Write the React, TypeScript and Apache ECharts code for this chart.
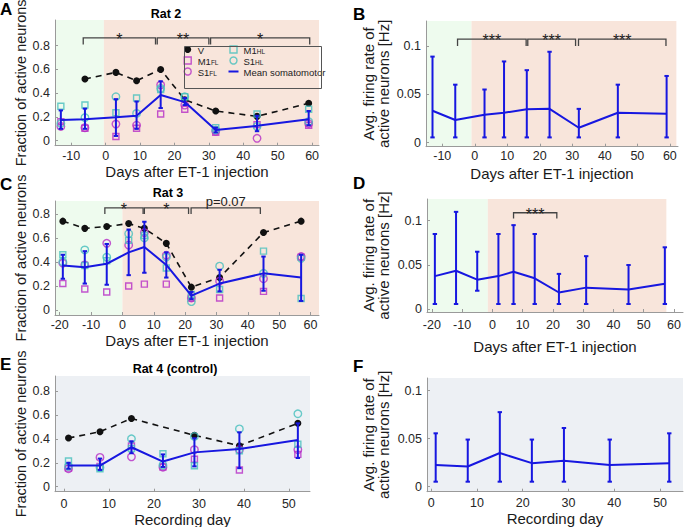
import React, { useEffect, useRef } from "react";
import * as echarts from "echarts";

// ---------------- Rat 2 (panels A, B) ----------------
const daysRat2 = [-13, -6, 3, 9, 16, 23, 32, 44, 59];
const daysRat2V = [-6, 3, 9, 16, 23, 32, 44, 59];
const vRat2 = [0.52, 0.575, 0.505, 0.6, 0.345, 0.25, 0.205, 0.315];
const meanRat2 = [0.175, 0.18, 0.197, 0.21, 0.385, 0.325, 0.09, 0.125, 0.18];
const loRat2 = [0.1, 0.1, 0.04, 0.1, 0.275, 0.3, 0.07, 0.08, 0.13];
const hiRat2 = [0.255, 0.27, 0.35, 0.33, 0.5, 0.36, 0.11, 0.21, 0.25];
const m1flRat2 = [0.16, 0.105, 0.035, 0.105, 0.225, 0.265, 0.07, 0.135, 0.13];
const s1flRat2 = [0.12, 0.11, 0.14, 0.13, 0.47, 0.3, 0.08, 0.02, 0.145];
const m1hlRat2 = [0.29, 0.3, 0.235, 0.36, 0.43, 0.37, 0.11, 0.225, 0.265];
const s1hlRat2 = [0.145, 0.195, 0.37, 0.23, 0.44, 0.37, 0.09, 0.12, 0.16];
const brStartA = [-6.5, 15, 30.5];
const brEndA = [14.5, 30, 59.3];
const brLabelA = ["*", "**", "*"];

const rateRat2 = [0.033, 0.0235, 0.029, 0.031, 0.0345, 0.035, 0.0155, 0.031, 0.03];
const rateHiRat2 = [0.089, 0.06, 0.055, 0.084, 0.075, 0.094, 0.035, 0.06, 0.069];
const rateLoRat2 = [0.0055, 0.0055, 0.0055, 0.0055, 0.0055, 0.0055, 0.0055, 0.0055, 0.0055];
const brStartB = [-5.3, 16.3, 31.9];
const brEndB = [15.8, 31, 58.8];
const brLabelB = ["***", "***", "***"];

// ---------------- Rat 3 (panels C, D) ----------------
const daysRat3 = [-19, -12, -5, 2, 7, 14, 22, 31, 45, 57];
const vRat3 = [0.74, 0.68, 0.695, 0.72, 0.68, 0.555, 0.19, 0.27, 0.645, 0.74];
const meanRat3 = [0.37, 0.355, 0.385, 0.48, 0.525, 0.375, 0.12, 0.22, 0.305, 0.27];
const loRat3 = [0.26, 0.22, 0.21, 0.29, 0.31, 0.27, 0.09, 0.155, 0.16, 0.075];
const hiRat3 = [0.46, 0.49, 0.55, 0.67, 0.735, 0.48, 0.15, 0.335, 0.445, 0.46];
const m1flRat3 = [0.22, 0.175, 0.15, 0.2, 0.215, 0.215, 0.1, 0.1, 0.155, 0.44];
const s1flRat3 = [0.39, 0.375, 0.555, 0.54, 0.645, 0.455, 0.1, 0.24, 0.26, 0.445];
const m1hlRat3 = [0.46, 0.37, 0.41, 0.58, 0.62, 0.35, 0.13, 0.17, 0.49, 0.095];
const s1hlRat3 = [0.4, 0.5, 0.44, 0.635, 0.6, 0.44, 0.07, 0.365, 0.305, 0.43];
const brStartC = [-5.6, 7, 21.9];
const brEndC = [6.6, 21.1, 44];
const brLabelC = ["*", "*", "p=0.07"];

const rateRat3 = [0.0375, 0.0435, 0.0335, 0.0375, 0.0425, 0.035, 0.019, 0.0245, 0.0225, 0.029];
const rateHiRat3 = [0.085, 0.11, 0.065, 0.085, 0.095, 0.085, 0.04, 0.06, 0.05, 0.07];
const rateLoRat3 = [0.006, 0.006, 0.021, 0.006, 0.006, 0.006, 0.006, 0.006, 0.006, 0.006];
const brStartD = [7];
const brEndD = [21.3];
const brLabelD = ["***"];

// ---------------- Rat 4 control (panels E, F) ----------------
const daysRat4 = [1, 8, 15, 22, 29, 39, 52];
const daysRat4V = [1, 8, 15, 29, 39, 52];
const vRat4 = [0.407, 0.46, 0.57, 0.43, 0.343, 0.53];
const meanRat4 = [0.177, 0.177, 0.33, 0.21, 0.287, 0.315, 0.39];
const loRat4 = [0.15, 0.14, 0.28, 0.165, 0.17, 0.155, 0.24];
const hiRat4 = [0.2, 0.235, 0.38, 0.27, 0.405, 0.455, 0.53];
const m1flRat4 = [0.155, 0.17, 0.34, 0.165, 0.23, 0.14, 0.27];
const s1flRat4 = [0.15, 0.245, 0.25, 0.163, 0.31, 0.31, 0.31];
const m1hlRat4 = [0.215, 0.15, 0.32, 0.275, 0.175, 0.3, 0.355];
const s1hlRat4 = [0.17, 0.16, 0.4, 0.18, 0.42, 0.483, 0.61];

const rateRat4 = [0.0225, 0.021, 0.035, 0.0245, 0.027, 0.0225, 0.0245];
const rateHiRat4 = [0.0555, 0.049, 0.0775, 0.049, 0.061, 0.049, 0.0555];
const rateLoRat4 = [0.0052, 0.0052, 0.0052, 0.0052, 0.0052, 0.0052, 0.0052];

// tick labels
const ticksX_AB = [-10, 0, 10, 20, 30, 40, 50, 60];
const ticksX_CD = [-20, -10, 0, 10, 20, 30, 40, 50, 60];
const ticksX_EF = [0, 10, 20, 30, 40, 50];
const ticksFrac = [0, 0.2, 0.4, 0.6, 0.8];
const ticksRate = [0, 0.05, 0.1];

// shading boundaries (green pre-injection, pink post-injection) in days
const shadeA = [-14.7, -0.5, 62];
const shadeB = [-14.7, -1, 62];
const shadeC = [-21.6, 0, 62.7];
const shadeD = [-21.6, -1.5, 57.5];

const FONT = "'Liberation Sans', Arial, Helvetica, sans-serif";
const BLUE = "#1717e0";
const MAGENTA = "#b52cc6";
const CYAN = "#45bfbd";
const BLACK = "#111111";
const GREEN_BG = "#eefbee";
const PINK_BG = "#f8e5db";
const GRAY_BG = "#edf0f4";
const AXIS = "#9a9a9a";
const TICK_FS = 12.5;
const NAME_FS = 15;

const fmt = (v: number) => String(Math.round(v * 1000) / 1000);

function xAx(gi: number, min: number, max: number, ticks: number[], name: string, nameGap: number, margin: number) {
  return {
    type: "value", gridIndex: gi, min, max, name, nameLocation: "middle", nameGap, z: 3,
    nameTextStyle: { fontFamily: FONT, fontSize: NAME_FS, color: "#1a1a1a" },
    axisLine: { show: true, onZero: false, lineStyle: { color: AXIS, width: 1 } },
    axisTick: { show: true, inside: true, length: 3, customValues: ticks, lineStyle: { color: AXIS } },
    axisLabel: { customValues: ticks, margin, fontFamily: FONT, fontSize: TICK_FS, color: "#262626", formatter: fmt },
    splitLine: { show: false },
  };
}

function yAx(gi: number, min: number, max: number, ticks: number[], name: string, nameGap: number, nameFs: number) {
  return {
    type: "value", gridIndex: gi, min, max, name, nameLocation: "middle", nameGap, z: 3,
    nameTextStyle: { fontFamily: FONT, fontSize: nameFs, color: "#1a1a1a", lineHeight: 15 },
    axisLine: { show: true, onZero: false, lineStyle: { color: AXIS, width: 1 } },
    axisTick: { show: true, inside: true, length: 3, customValues: ticks, lineStyle: { color: AXIS } },
    axisLabel: { customValues: ticks, margin: 5, fontFamily: FONT, fontSize: TICK_FS, color: "#262626", formatter: fmt },
    splitLine: { show: false },
  };
}

function shadeArea(s: number[] | null) {
  if (!s) return undefined;
  return {
    silent: true,
    label: { show: false },
    itemStyle: { opacity: 1, borderWidth: 0 },
    data: [
      [{ xAxis: s[0], itemStyle: { color: GREEN_BG } }, { xAxis: s[1] }],
      [{ xAxis: s[1], itemStyle: { color: PINK_BG } }, { xAxis: s[2] }],
    ],
  };
}

function errSeries(gi: number, days: number[], lo: number[], hi: number[]) {
  return {
    type: "custom", name: "err" + gi, xAxisIndex: gi, yAxisIndex: gi, z: 6, silent: true,
    data: days.map((d, i) => [d, lo[i], hi[i]]),
    encode: { x: 0, y: [1, 2] },
    renderItem: (params: any, api: any) => {
      const x = api.value(0);
      const a = api.coord([x, api.value(1)]);
      const b = api.coord([x, api.value(2)]);
      const w = 2.2;
      const st = () => ({ stroke: BLUE, lineWidth: 2 });
      return {
        type: "group",
        children: [
          { type: "line", shape: { x1: a[0], y1: a[1], x2: b[0], y2: b[1] }, style: st() },
          { type: "line", shape: { x1: a[0] - w, y1: a[1], x2: a[0] + w, y2: a[1] }, style: st() },
          { type: "line", shape: { x1: b[0] - w, y1: b[1], x2: b[0] + w, y2: b[1] }, style: st() },
        ],
      };
    },
  };
}

function bracketSeries(gi: number, starts: number[], ends: number[], labels: string[], yTop: number, yDrop: number) {
  return {
    type: "custom", name: "br" + gi, xAxisIndex: gi, yAxisIndex: gi, z: 7, silent: true,
    data: starts.map((s, i) => [s, ends[i]]),
    encode: { x: [0, 1] },
    renderItem: (params: any, api: any) => {
      const i = params.dataIndex;
      const p1 = api.coord([starts[i], yTop]);
      const p2 = api.coord([ends[i], yTop]);
      const d = api.coord([starts[i], yDrop]);
      const star = labels[i].charAt(0) === "*";
      return {
        type: "group",
        children: [
          {
            type: "polyline",
            shape: { points: [[p1[0], d[1]], [p1[0], p1[1]], [p2[0], p2[1]], [p2[0], d[1]]] },
            style: { stroke: "#444", lineWidth: 1.3, fill: "none" },
          },
          {
            type: "text",
            style: {
              text: labels[i], x: (p1[0] + p2[0]) / 2, y: star ? p1[1] + 1.5 : p1[1] - 6,
              align: "center", verticalAlign: "middle",
              font: star ? `16px ${FONT}` : `13px ${FONT}`, fill: "#222",
            },
          },
        ],
      };
    },
  };
}

function scatter(gi: number, name: string, days: number[], vals: number[], symbol: string, color: string, size: number) {
  return {
    type: "scatter", name, xAxisIndex: gi, yAxisIndex: gi, symbol, symbolSize: size, z: 4, silent: true,
    itemStyle: { color: "rgba(0,0,0,0)", borderColor: color, borderWidth: 1.4 },
    data: days.map((d, i) => [d, vals[i]]),
  };
}

function fracPanel(gi: number, days: number[], vDays: number[], v: number[], mean: number[], lo: number[], hi: number[],
  m1fl: number[], s1fl: number[], m1hl: number[], s1hl: number[], shade: number[] | null) {
  return [
    {
      type: "line", name: "V", xAxisIndex: gi, yAxisIndex: gi, z: 3, silent: true,
      symbol: "circle", symbolSize: 7, color: BLACK,
      itemStyle: { color: BLACK },
      lineStyle: { color: BLACK, width: 1.6, type: [6, 5] },
      data: vDays.map((d, i) => [d, v[i]]),
      markArea: shadeArea(shade),
    },
    scatter(gi, "M1_FL", days, m1fl, "rect", MAGENTA, 6),
    scatter(gi, "S1_FL", days, s1fl, "circle", MAGENTA, 7.5),
    scatter(gi, "M1_HL", days, m1hl, "rect", CYAN, 6),
    scatter(gi, "S1_HL", days, s1hl, "circle", CYAN, 7.5),
    {
      type: "line", name: "Mean somatomotor", xAxisIndex: gi, yAxisIndex: gi, z: 5, silent: true,
      symbol: "none", showSymbol: false, color: BLUE,
      lineStyle: { color: BLUE, width: 2 },
      data: days.map((d, i) => [d, mean[i]]),
    },
    errSeries(gi, days, lo, hi),
  ];
}

function ratePanel(gi: number, days: number[], mean: number[], lo: number[], hi: number[], shade: number[] | null) {
  return [
    {
      type: "line", name: "rate" + gi, xAxisIndex: gi, yAxisIndex: gi, z: 5, silent: true,
      symbol: "none", showSymbol: false, color: BLUE,
      lineStyle: { color: BLUE, width: 2 },
      data: days.map((d, i) => [d, mean[i]]),
      markArea: shadeArea(shade),
    },
    errSeries(gi, days, lo, hi),
  ];
}

const legendRich = {
  b: { fontFamily: FONT, fontSize: 9.5, color: "#222", lineHeight: 11, verticalAlign: "bottom" },
  s: { fontFamily: FONT, fontSize: 6.5, color: "#222", lineHeight: 6, verticalAlign: "bottom" },
};
const legendFmt = (name: string) => {
  const k = name.indexOf("_");
  if (k < 0) return `{b|${name}}`;
  return `{b|${name.slice(0, k)}}{s|${name.slice(k + 1)}}`;
};
const SQ = "path://M0 0H10V10H0Z";
const LINE_ICON = "path://M0 0H10V2H0Z";

function legendCfg(left: number, data: any[]) {
  return {
    show: true, orient: "vertical", left, top: 45, padding: 0, itemGap: 1,
    itemWidth: 10, itemHeight: 7, selectedMode: false, symbolKeepAspect: true,
    formatter: legendFmt, textStyle: { rich: legendRich, fontFamily: FONT, fontSize: 9.5, color: "#222" },
    data,
  };
}

function titleCfg(text: string, left: number, top: number, size: number, align = "left") {
  return {
    text, left, top, padding: 0, textAlign: align,
    textStyle: { fontFamily: FONT, fontSize: size, fontWeight: "bold", color: "#000" },
  };
}

export default function App() {
  const ref = useRef<HTMLDivElement>(null);
  useEffect(() => {
    if (!ref.current) return;
    const chart = echarts.init(ref.current, null, { renderer: "svg" });
    const yNameRate = "Avg. firing rate of\nactive neurons [Hz]";
    const yNameFrac = "Fraction of active neurons";
    const xNameDays = "Days after ET-1 injection";
    const option: any = {
      animation: false,
      backgroundColor: "#ffffff",
      title: [
        titleCfg("A", 0, 1, 17), titleCfg("B", 353, 6, 17), titleCfg("C", 0, 176, 17),
        titleCfg("D", 353, 175, 17), titleCfg("E", 0, 356, 17), titleCfg("F", 353, 358, 17),
        titleCfg("Rat 2", 166, 7, 12.5, "center"),
        titleCfg("Rat 3", 168, 186, 12.5, "center"),
        titleCfg("Rat 4 (control)", 175, 362, 12.5, "center"),
      ],
      grid: [
        { left: 55, top: 20, width: 264, height: 125.7, outerBoundsMode: "none" },
        { left: 426, top: 21, width: 252, height: 125.7, outerBoundsMode: "none" },
        { left: 55, top: 201, width: 264, height: 114, outerBoundsMode: "none" },
        { left: 427, top: 199, width: 256, height: 113, outerBoundsMode: "none" },
        { left: 55, top: 376, width: 255, height: 115.7, show: true, backgroundColor: GRAY_BG, borderWidth: 0, outerBoundsMode: "none" },
        { left: 427, top: 378, width: 256, height: 113.7, show: true, backgroundColor: GRAY_BG, borderWidth: 0, outerBoundsMode: "none" },
      ],
      xAxis: [
        xAx(0, -14.7, 62, ticksX_AB, xNameDays, 17, 4),
        xAx(1, -15, 62.5, ticksX_AB, xNameDays, 19, 3),
        xAx(2, -21.5, 62.7, ticksX_CD, xNameDays, 17.5, 3),
        xAx(3, -21.6, 63, ticksX_CD, xNameDays, 27, 6),
        xAx(4, -2, 54.7, ticksX_EF, "Recording day", 14.5, 6),
        xAx(5, -0.9, 55, ticksX_EF, "Recording day", 17.5, 5),
      ],
      yAxis: [
        yAx(0, -0.042, 1.016, ticksFrac, yNameFrac, 23, 14.5),
        yAx(1, -0.0041, 0.1258, ticksRate, yNameRate, 35.5, 15),
        yAx(2, -0.042, 0.908, ticksFrac, yNameFrac, 23, 14.5),
        yAx(3, -0.003, 0.1245, ticksRate, yNameRate, 36, 15),
        yAx(4, -0.042, 0.926, ticksFrac, yNameFrac, 23, 14.5),
        yAx(5, -0.0052, 0.113, ticksRate, yNameRate, 36, 15),
      ],
      legend: [
        legendCfg(183.5, [
          { name: "V", icon: "circle", itemStyle: { color: BLACK } },
          { name: "M1_FL", icon: SQ, itemStyle: { color: "rgba(0,0,0,0)", borderColor: MAGENTA, borderWidth: 1.4 } },
          { name: "S1_FL", icon: "circle", itemStyle: { color: "rgba(0,0,0,0)", borderColor: MAGENTA, borderWidth: 1.4 } },
        ]),
        legendCfg(228.5, [
          { name: "M1_HL", icon: SQ, itemStyle: { color: "rgba(0,0,0,0)", borderColor: CYAN, borderWidth: 1.4 } },
          { name: "S1_HL", icon: "circle", itemStyle: { color: "rgba(0,0,0,0)", borderColor: CYAN, borderWidth: 1.4 } },
          { name: "Mean somatomotor", icon: LINE_ICON, itemStyle: { color: BLUE, borderWidth: 0 } },
        ]),
      ],
      graphic: [
        { type: "rect", left: 182, top: 44, shape: { width: 137, height: 42 }, style: { fill: "none", stroke: "#555", lineWidth: 1 }, z: 10, silent: true },
      ],
      series: [
        ...fracPanel(0, daysRat2, daysRat2V, vRat2, meanRat2, loRat2, hiRat2, m1flRat2, s1flRat2, m1hlRat2, s1hlRat2, shadeA),
        bracketSeries(0, brStartA, brEndA, brLabelA, 0.865, 0.81),
        ...ratePanel(1, daysRat2, rateRat2, rateLoRat2, rateHiRat2, shadeB),
        bracketSeries(1, brStartB, brEndB, brLabelB, 0.107, 0.1),
        ...fracPanel(2, daysRat3, daysRat3, vRat3, meanRat3, loRat3, hiRat3, m1flRat3, s1flRat3, m1hlRat3, s1hlRat3, shadeC),
        bracketSeries(2, brStartC, brEndC, brLabelC, 0.85, 0.8),
        ...ratePanel(3, daysRat3, rateRat3, rateLoRat3, rateHiRat3, shadeD),
        bracketSeries(3, brStartD, brEndD, brLabelD, 0.109, 0.1025),
        ...fracPanel(4, daysRat4, daysRat4V, vRat4, meanRat4, loRat4, hiRat4, m1flRat4, s1flRat4, m1hlRat4, s1hlRat4, null),
        ...ratePanel(5, daysRat4, rateRat4, rateLoRat4, rateHiRat4, null),
      ],
    };
    chart.setOption(option);
    return () => chart.dispose();
  }, []);
  return (
    <div
      ref={ref}
      style={{ position: "fixed", left: 0, top: 0, width: 684, height: 527, background: "#fff" }}
    />
  );
}
